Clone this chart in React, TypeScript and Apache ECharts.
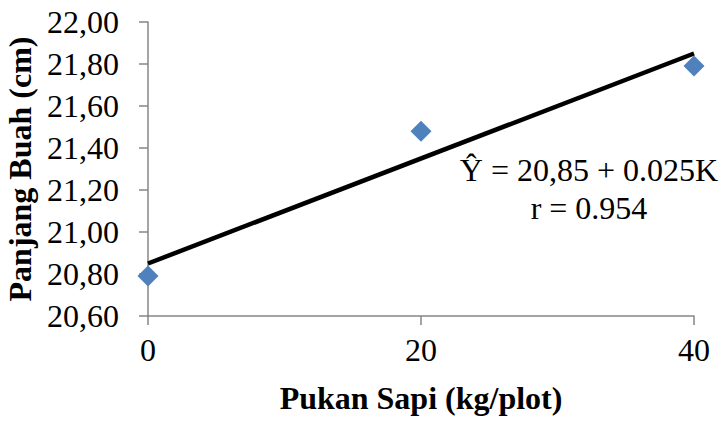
import React, { useEffect, useRef } from "react";
import * as echarts from "echarts";

const xValues = [0, 20, 40];
const yValues = [20.79, 21.48, 21.79];
const regressionX = [0, 40];
const regressionY = [20.85, 21.85];
const equationLines = ["Ŷ = 20,85 + 0.025K", "r = 0.954"];
const xTitle = "Pukan Sapi (kg/plot)";
const yTitle = "Panjang Buah (cm)";

const FONT = "Liberation Serif";
const FS = 32;

export default function App() {
  const ref = useRef<HTMLDivElement>(null);
  useEffect(() => {
    document.body.style.margin = "0";
    const chart = echarts.init(ref.current!, undefined, { renderer: "svg" });
    const axisLine = { show: true, lineStyle: { color: "#868686", width: 1.5 } };
    chart.setOption({
      animation: false,
      backgroundColor: "#ffffff",
      textStyle: { fontFamily: FONT },
      grid: {
        left: 148,
        right: 30,
        top: 22,
        bottom: 105,
        containLabel: false,
        outerBoundsMode: "none",
      },
      xAxis: {
        type: "value",
        min: 0,
        max: 40,
        interval: 20,
        name: xTitle,
        nameLocation: "middle",
        nameGap: 66,
        nameTextStyle: { fontFamily: FONT, fontWeight: "bold", fontSize: FS, color: "#000" },
        axisLine,
        axisTick: { show: true, length: 9, lineStyle: { color: "#868686", width: 1.5 } },
        axisLabel: { fontFamily: FONT, fontSize: FS, color: "#000", margin: 18 },
        splitLine: { show: false },
      },
      yAxis: {
        type: "value",
        min: 20.6,
        max: 22.0,
        interval: 0.2,
        name: yTitle,
        nameLocation: "middle",
        nameGap: 103,
        nameTextStyle: { fontFamily: FONT, fontWeight: "bold", fontSize: FS, color: "#000" },
        axisLine,
        axisTick: { show: true, length: 9, lineStyle: { color: "#868686", width: 1.5 } },
        axisLabel: {
          fontFamily: FONT,
          fontSize: FS,
          color: "#000",
          margin: 29,
          formatter: (v: number) => v.toFixed(2).replace(".", ","),
        },
        splitLine: { show: false },
      },
      series: [
        {
          type: "line",
          data: regressionX.map((x, i) => [x, regressionY[i]]),
          showSymbol: false,
          symbol: "none",
          lineStyle: { color: "#000", width: 4.5 },
          z: 2,
        },
        {
          type: "scatter",
          data: xValues.map((x, i) => [x, yValues[i]]),
          symbol: "diamond",
          symbolSize: 21,
          itemStyle: { color: "#4F81BD", opacity: 1 },
          z: 3,
        },
      ],
      graphic: equationLines.map((t, i) => ({
        type: "text",
        x: 589,
        y: 170 + i * 38,
        style: {
          text: t,
          fontFamily: FONT,
          fontSize: FS,
          fill: "#000",
          align: "center",
          verticalAlign: "middle",
        },
      })),
    });
    return () => chart.dispose();
  }, []);
  return <div ref={ref} style={{ position: "absolute", left: 0, top: 0, width: 724, height: 421 }} />;
}
